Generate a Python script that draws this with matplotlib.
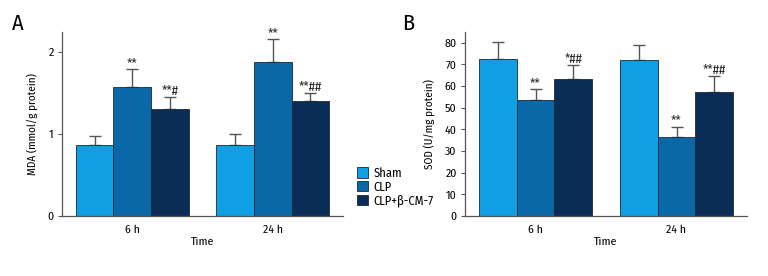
import numpy as np
import matplotlib
matplotlib.use('Agg')
import matplotlib.pyplot as plt
from matplotlib.patches import Patch

plt.rcParams['font.family'] = ['Fira Sans Condensed', 'DejaVu Sans']

# data
groups = ['6 h', '24 h']
series = ['Sham', 'CLP', 'CLP+β-CM-7']
colors = ['#0f9fe2', '#0b68a8', '#0a2d57']

mda_mean = [[0.86, 0.87], [1.57, 1.88], [1.30, 1.40]]
mda_err = [[0.11, 0.13], [0.22, 0.27], [0.15, 0.10]]
mda_marks = [['', ''], ['**', '**'], ['**#', '**##']]

sod_mean = [[72.5, 72.1], [53.7, 36.4], [63.1, 57.3]]
sod_err = [[7.7, 6.8], [4.9, 4.9], [6.7, 7.2]]
sod_marks = [['', ''], ['**', '**'], ['*##', '**##']]

fig = plt.figure(figsize=(7.68, 2.76), dpi=100)
W, H = 768, 276


def panel(rect, means, errs, marks, ylim, yticks, ylabel, letter, letter_xy, mark_pad):
    l, t, r, b = rect
    ax = fig.add_axes([l / W, 1 - b / H, (r - l) / W, (b - t) / H])
    x = np.arange(len(groups))
    w = 0.2676
    for i, name in enumerate(series):
        xs = x + (i - 1) * w
        ax.bar(xs, means[i], w, color=colors[i], edgecolor='#1a2a3a', linewidth=0.6, zorder=2)
        ax.errorbar(xs, means[i], yerr=[np.zeros(len(groups)), errs[i]], fmt='none',
                    ecolor='#555555', elinewidth=1.0, capsize=4, capthick=1.0, zorder=1)
        for j in range(len(groups)):
            if marks[i][j]:
                ax.text(xs[j], means[i][j] + errs[i][j] + mark_pad, marks[i][j],
                        ha='center', va='bottom', fontsize=9.5, color='#222222')
    ax.set_xlim(-0.5, 1.5)
    ax.set_ylim(*ylim)
    ax.set_yticks(yticks)
    ax.set_xticks(x)
    ax.set_xticklabels(groups)
    ax.tick_params(axis='x', length=0, pad=6, labelsize=8.5)
    ax.tick_params(axis='y', length=3, width=0.8, color='#555555', labelsize=8.5, pad=3)
    for s in ['top', 'right']:
        ax.spines[s].set_visible(False)
    for s in ['left', 'bottom']:
        ax.spines[s].set_color('#555555')
        ax.spines[s].set_linewidth(0.9)
    ax.set_xlabel('Time', fontsize=8.5, labelpad=1)
    ax.set_ylabel(ylabel, fontsize=8, labelpad=7)
    fig.text(letter_xy[0] / W, 1 - letter_xy[1] / H, letter, fontsize=16, ha='left', va='top')
    return ax


panel((62, 32, 343, 216), mda_mean, mda_err, mda_marks, (0, 2.24), [0, 1, 2],
      'MDA (mmol/g protein)', 'A', (12, 13), -0.01)
panel((465, 32, 747, 216), sod_mean, sod_err, sod_marks, (0, 85), range(0, 81, 10),
      'SOD (U/mg protein)', 'B', (402, 13), -0.3)

handles = [Patch(facecolor=c, edgecolor='#1a2a3a', linewidth=0.6) for c in colors]
fig.legend(handles, series, loc='upper left', bbox_to_anchor=(352 / W, 1 - 162 / H),
           frameon=False, fontsize=9, handlelength=0.9, handleheight=0.9,
           handletextpad=0.4, labelspacing=0.1, borderaxespad=0)

fig.savefig('out.png', dpi=100)
